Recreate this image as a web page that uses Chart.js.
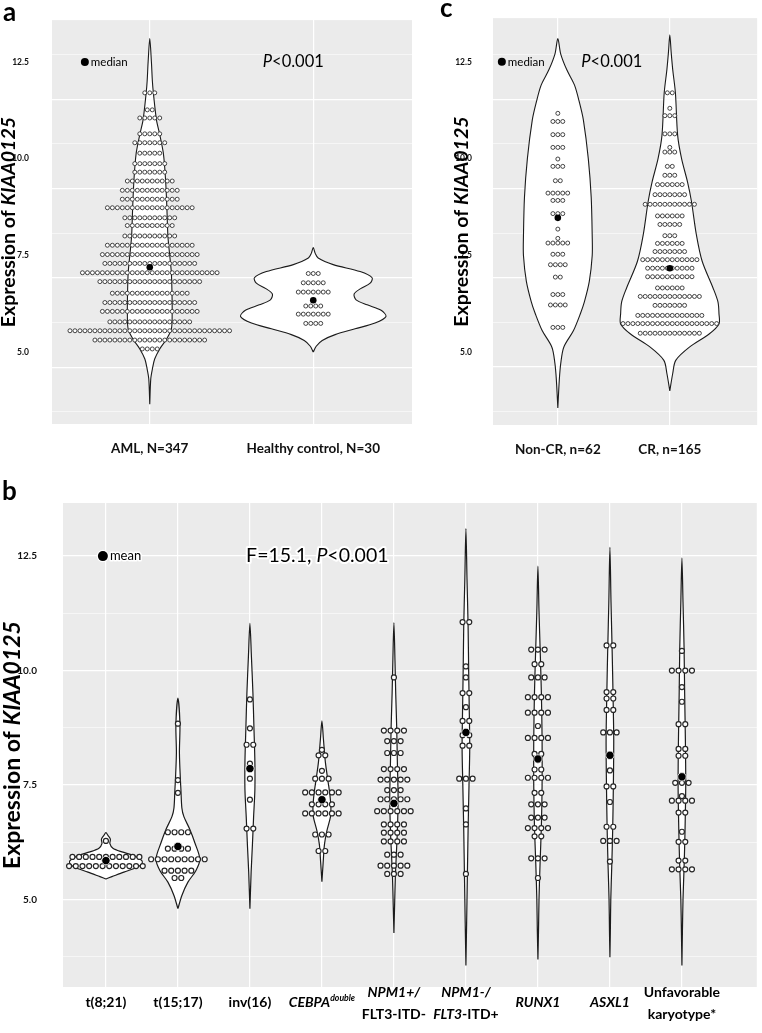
<!DOCTYPE html>
<html>
<head>
<meta charset="utf-8">
<script src="https://cdn.jsdelivr.net/npm/chart.js@4.4.1/dist/chart.umd.min.js"></script>
<style>
  html, body { margin: 0; padding: 0; background: #fff; }
  #wrap { position: relative; width: 762px; height: 1033px; overflow: hidden; }
  canvas { position: absolute; }
  .tag { position: absolute; z-index: 2; font: bold 26px Lato, sans-serif; line-height: 1; color: #000; }
</style>
</head>
<body>
<div id="wrap">
  <div class="tag" style="left:3px;top:-2px">a</div>
  <div class="tag" style="left:440px;top:-6px">c</div>
  <div class="tag" style="left:2px;top:477px">b</div>
  <canvas id="chartA" width="420" height="470" style="left:0;top:0"></canvas>
  <canvas id="chartC" width="322" height="470" style="left:440px;top:0"></canvas>
  <canvas id="chartB" width="762" height="563" style="left:0;top:470px"></canvas>
</div>
<script>
(function () {
    'use strict';

    // ── Shared text / ticks ─────────────────────────────────────
    const Y_TITLE = 'Expression of _KIAA0125_';
    const P_NOTE = '_P_<0.001';
    const F_NOTE = 'F=15.1, _P_<0.001';
    const Y_LABELS = [5, 7.5, 10, 12.5];
    const AC_GRID = [4, 5, 6, 7, 8, 9, 10, 11, 12];
    const B_GRID = [3.75, 5, 6.25, 7.5, 8.75, 10, 11.25, 12.5];

    // ── Panel a: AML vs healthy control ─────────────────────────
    const A_CATEGORIES = ['AML, N=347', 'Healthy control, N=30'];
    const A_MEDIANS = [7.19, 6.34];
    // [expression, number of samples in the row]
    const AML_DOTS = [
        [11.70, 3], [11.26, 2], [11.05, 5], [10.64, 5], [10.41, 7], [10.14, 5], [9.87, 7],
        [9.65, 7], [9.42, 10], [9.18, 12], [8.95, 12], [8.73, 18], [8.47, 11], [8.27, 10],
        [8.00, 11], [7.76, 18], [7.52, 20], [7.29, 19], [7.05, 28], [6.82, 21], [6.52, 16],
        [6.28, 19], [6.05, 20], [5.78, 17], [5.55, 33], [5.31, 23], [5.08, 4],
    ];
    const HC_DOTS = [[7.03, 3], [6.79, 5], [6.55, 7], [6.19, 4], [5.98, 7], [5.74, 4]];
    // [expression, density half-width]
    const AML_VIOLIN = [
        [3.65, 0], [4.30, .006], [4.56, .016], [4.82, .030], [5.08, .061], [5.33, .102],
        [5.59, .132], [6.00, .137], [6.50, .136], [7.05, .132], [7.50, .122], [8.00, .111],
        [8.80, .104], [9.50, .096], [10.14, .083], [10.60, .062], [11.00, .041], [11.70, .022],
        [12.00, .016], [12.50, .010], [13.10, 0],
    ];
    const HC_VIOLIN = [
        [5.00, 0], [5.15, .018], [5.30, .055], [5.45, .134], [5.60, .256], [5.75, .378],
        [5.92, .445], [6.08, .415], [6.22, .330], [6.35, .262], [6.50, .250], [6.64, .290],
        [6.78, .348], [6.92, .360], [7.08, .287], [7.26, .122], [7.43, .030], [7.55, .012], [7.70, 0],
    ];

    // ── Panel c: Non-CR vs CR ───────────────────────────────────
    const C_CATEGORIES = ['Non-CR, n=62', 'CR, n=165'];
    const C_MEDIANS = [8.47, 7.17];
    const NONCR_DOTS = [
        [11.17, 1], [10.96, 3], [10.62, 3], [10.29, 3], [9.99, 1], [9.80, 3], [9.43, 2],
        [9.11, 5], [8.92, 3], [8.58, 3], [8.18, 1], [7.94, 1], [7.82, 5], [7.53, 3],
        [7.26, 4], [6.94, 2], [6.49, 3], [6.22, 4], [5.64, 3],
    ];
    const CR_DOTS = [
        [11.70, 2], [11.30, 1], [11.11, 3], [10.64, 3], [10.29, 1], [10.17, 3], [9.80, 2],
        [9.57, 3], [9.33, 6], [9.07, 7], [8.82, 11], [8.52, 6], [8.30, 5], [8.01, 3],
        [7.81, 6], [7.60, 7], [7.39, 12], [7.17, 10], [6.95, 10], [6.66, 6], [6.44, 13],
        [6.21, 7], [5.95, 14], [5.74, 20], [5.49, 13],
    ];
    const NONCR_VIOLIN = [
        [3.56, 0], [4.28, .013], [4.71, .026], [5.13, .053], [5.56, .140], [6.00, .202],
        [6.30, .237], [6.83, .281], [7.50, .307], [8.00, .307], [9.00, .298], [10.00, .272],
        [11.00, .228], [11.45, .193], [11.90, .149], [12.30, .079], [12.70, .026], [13.10, 0],
    ];
    const CR_VIOLIN = [
        [4.00, 0], [4.45, .026], [4.79, .053], [5.13, .175], [5.47, .351], [5.73, .439],
        [6.00, .439], [6.30, .430], [6.66, .386], [7.35, .289], [8.04, .237], [8.90, .193],
        [9.40, .158], [10.00, .105], [10.60, .070], [11.70, .050], [12.30, .026], [12.75, .012], [13.20, 0],
    ];

    // ── Panel b: molecular / cytogenetic subgroups ──────────────
    // _text_ = italic, ^text^ = superscript, \n = line break
    const B_CATEGORIES = [
        't(8;21)', 't(15;17)', 'inv(16)', '_CEBPA_^double^', '_NPM1+/_\nFLT3-ITD-',
        '_NPM1-/_\n_FLT3_-ITD+', '_RUNX1_', '_ASXL1_', 'Unfavorable\nkaryotype*',
    ];
    const B_MEANS = [5.85, 6.16, 7.86, 7.18, 7.10, 8.65, 8.07, 8.15, 7.68];
    const T821_DOTS = [[6.28, 1], [5.93, 11], [5.73, 12]];
    const T1517_DOTS = [[8.84, 1], [7.61, 1], [7.33, 1], [6.47, 4], [6.11, 4], [5.88, 9], [5.63, 5], [5.47, 2]];
    const INV16_DOTS = [[9.37, 1], [8.74, 1], [8.38, 2], [7.97, 1], [7.64, 1], [7.18, 1], [6.55, 2]];
    const CEBPA_DOTS = [[8.27, 1], [8.15, 2], [7.81, 1], [7.64, 3], [7.34, 6], [7.08, 4], [6.88, 6], [6.42, 3], [6.06, 2]];
    const NPM1P_DOTS = [
        [9.85, 1], [8.69, 4], [8.46, 3], [8.20, 3], [7.85, 4], [7.62, 5], [7.39, 3], [7.19, 5],
        [6.93, 6], [6.64, 4], [6.46, 4], [6.27, 4], [5.98, 3], [5.74, 5], [5.56, 3],
    ];
    const NPM1M_DOTS = [
        [11.06, 2], [10.09, 1], [9.85, 1], [9.51, 2], [9.20, 1], [8.90, 2], [8.59, 2],
        [8.36, 2], [7.64, 3], [6.99, 1], [6.64, 1], [5.56, 1],
    ];
    const RUNX1_DOTS = [
        [10.46, 3], [10.14, 2], [9.85, 3], [9.42, 4], [9.08, 4], [8.79, 1], [8.53, 4], [8.18, 2],
        [7.84, 2], [7.66, 4], [7.33, 2], [7.08, 3], [6.79, 3], [6.56, 4], [6.38, 2], [5.90, 3], [5.47, 1],
    ];
    const ASXL1_DOTS = [
        [10.55, 2], [9.53, 2], [9.39, 2], [9.14, 2], [8.65, 3], [7.82, 1], [7.47, 2],
        [7.13, 1], [6.59, 2], [6.28, 3], [5.83, 1],
    ];
    const UNFAV_DOTS = [
        [10.43, 1], [10.00, 4], [9.64, 1], [9.32, 1], [8.83, 2], [8.29, 2], [8.14, 2], [7.55, 3],
        [7.26, 1], [7.16, 4], [6.90, 2], [6.48, 1], [6.26, 2], [5.85, 2], [5.66, 4],
    ];
    const T821_VIOLIN = [
        [5.45, 0], [5.50, .083], [5.60, .249], [5.70, .429], [5.78, .499], [5.85, .499],
        [5.96, .388], [6.04, .222], [6.12, .097], [6.22, .055], [6.32, .062], [6.40, .028], [6.46, 0],
    ];
    const T1517_VIOLIN = [
        [4.80, 0], [5.09, .055], [5.38, .139], [5.63, .249], [5.88, .305], [6.24, .235], [6.53, .166],
        [6.81, .083], [7.00, .055], [7.39, .042], [7.60, .035], [8.20, .021], [8.83, .028], [9.40, 0],
    ];
    const INV16_VIOLIN = [
        [4.80, 0], [5.60, .017], [6.20, .035], [6.80, .051], [7.40, .069], [8.00, .069],
        [8.80, .055], [9.50, .042], [10.30, .021], [11.03, 0],
    ];
    const CEBPA_VIOLIN = [
        [5.39, 0], [5.80, .017], [6.20, .035], [6.50, .069], [6.80, .118], [7.00, .125],
        [7.30, .110], [7.60, .083], [8.00, .048], [8.50, .021], [8.90, 0],
    ];
    const NPM1P_VIOLIN = [
        [4.27, 0], [4.90, .010], [5.50, .020], [6.00, .034], [6.50, .048], [7.20, .058],
        [8.00, .048], [8.80, .038], [9.50, .025], [10.20, .015], [11.05, 0],
    ];
    const NPM1M_VIOLIN = [
        [3.56, 0], [4.50, .010], [5.50, .020], [6.50, .030], [7.50, .043], [8.30, .053],
        [9.00, .048], [10.00, .038], [11.00, .030], [12.00, .015], [13.10, 0],
    ];
    const RUNX1_VIOLIN = [
        [3.69, 0], [4.30, .008], [5.00, .015], [5.80, .030], [6.60, .048], [7.50, .058],
        [8.50, .058], [9.50, .048], [10.30, .034], [11.30, .015], [12.28, 0],
    ];
    const ASXL1_VIOLIN = [
        [3.74, 0], [4.30, .006], [5.00, .012], [5.70, .025], [6.50, .038], [7.50, .048],
        [8.50, .053], [9.50, .043], [10.50, .030], [11.50, .015], [12.69, 0],
    ];
    const UNFAV_VIOLIN = [
        [3.56, 0], [4.30, .007], [5.00, .015], [5.70, .030], [6.50, .043], [7.50, .053],
        [8.50, .048], [9.50, .038], [10.50, .030], [11.50, .015], [12.46, 0],
    ];

    // ── Look ────────────────────────────────────────────────────
    const FONT = 'Lato, "Open Sans", sans-serif';
    const PANEL_BG = '#ebebeb';
    Chart.defaults.font.family = FONT;
    Chart.defaults.color = '#111';

    // ── Helpers ─────────────────────────────────────────────────

    function parseRich(s) {
        const out = [];
        s.split(/(_[^_]+_|\^[^^]+\^)/).forEach(p => {
            if (!p) return;
            if (p[0] === '_') out.push({ t: p.slice(1, -1), it: true });
            else if (p[0] === '^') out.push({ t: p.slice(1, -1), it: true, sup: true });
            else out.push({ t: p });
        });
        return out;
    }

    function drawRich(ctx, s, x, y, o) {
        const segs = parseRich(s);
        const fontOf = sg => (sg.it ? 'italic ' : '') + (o.weight || 'normal') + ' ' +
            (sg.sup ? o.size * 0.62 : o.size) + 'px ' + FONT;
        let w = 0;
        segs.forEach(sg => { ctx.font = fontOf(sg); sg.w = ctx.measureText(sg.t).width; w += sg.w; });
        let cx = o.align === 'left' ? x : x - w / 2;
        ctx.textAlign = 'left';
        ctx.textBaseline = 'middle';
        segs.forEach(sg => {
            ctx.font = fontOf(sg);
            const yy = sg.sup ? y - o.size * 0.3 : y;
            if (o.halo) {
                ctx.strokeStyle = '#fff';
                ctx.lineWidth = o.halo;
                ctx.lineJoin = 'round';
                ctx.strokeText(sg.t, cx, yy);
            }
            ctx.fillStyle = '#000';
            ctx.fillText(sg.t, cx, yy);
            cx += sg.w;
        });
    }

    function dotPoints(rows, cat, step) {
        const pts = [];
        rows.forEach(([y, n]) => {
            for (let i = 0; i < n; i++) pts.push({ x: cat + (i - (n - 1) / 2) * step, y });
        });
        return pts;
    }

    function violinPoints(shape, cat) {
        const right = shape.map(([y, w]) => ({ x: cat + w, y }));
        const left = shape.slice(0, -1).reverse().map(([y, w]) => ({ x: cat - w, y }));
        return right.concat(left);
    }

    function groupDatasets(groups, centres, look) {
        const sets = [];
        groups.forEach((g, i) => {
            const cat = i + 1;
            sets.push({
                violin: true, data: violinPoints(g.violin, cat), yAxisID: 'y',
                showLine: true, borderColor: '#1b1b1b', borderWidth: look.line,
                pointRadius: 0, tension: 0.3, fill: false, order: 3,
            });
            sets.push({
                data: dotPoints(g.dots, cat, look.step), yAxisID: 'y', showLine: false,
                pointRadius: look.r, pointBorderWidth: look.bw,
                pointBackgroundColor: '#fff', pointBorderColor: '#262626', order: 2,
            });
        });
        sets.push({
            data: centres.map((y, i) => ({ x: i + 1, y })), yAxisID: 'y', showLine: false,
            pointRadius: look.cr, pointBackgroundColor: '#000',
            pointBorderColor: '#fff', pointBorderWidth: look.crRing, order: 1,
        });
        return sets;
    }

    // ── Plugins ─────────────────────────────────────────────────

    const violinFill = {
        id: 'violinFill',
        beforeDatasetsDraw(chart) {
            const { ctx, chartArea } = chart;
            chart.data.datasets.forEach((ds, i) => {
                if (!ds.violin) return;
                const meta = chart.getDatasetMeta(i);
                if (meta.dataset && meta.dataset.updateControlPoints) meta.dataset.updateControlPoints(chartArea, 'x');
                const pts = meta.data;
                if (!pts.length) return;
                ctx.save();
                ctx.beginPath();
                ctx.moveTo(pts[0].x, pts[0].y);
                for (let k = 1; k < pts.length; k++) {
                    const p = pts[k - 1], q = pts[k];
                    if (Number.isFinite(p.cp2x) && Number.isFinite(q.cp1x)) {
                        ctx.bezierCurveTo(p.cp2x, p.cp2y, q.cp1x, q.cp1y, q.x, q.y);
                    } else {
                        ctx.lineTo(q.x, q.y);
                    }
                }
                ctx.closePath();
                ctx.fillStyle = '#fff';
                ctx.fill();
                ctx.restore();
            });
        },
    };

    const decor = {
        id: 'decor',
        beforeDraw(chart) {
            const { ctx, chartArea: a } = chart;
            ctx.save();
            ctx.fillStyle = PANEL_BG;
            ctx.fillRect(a.left, a.top, a.right - a.left, a.bottom - a.top);
            ctx.restore();
        },
        afterDraw(chart, args, o) {
            const { ctx, chartArea: a, scales } = chart;
            const sx = scales.x, sy = scales.y;

            // axis title
            ctx.save();
            ctx.translate(o.titleX, (a.top + a.bottom) / 2);
            ctx.rotate(-Math.PI / 2);
            drawRich(ctx, Y_TITLE, 0, 0, { size: o.titleSize, weight: 'bold' });
            ctx.restore();

            // median / mean key
            const kx = sx.getPixelForValue(o.key.x), ky = sy.getPixelForValue(o.key.y);
            ctx.save();
            ctx.beginPath();
            ctx.arc(kx, ky, o.key.r, 0, Math.PI * 2);
            ctx.fillStyle = '#000';
            if (o.key.ring) {
                ctx.strokeStyle = '#fff';
                ctx.lineWidth = o.key.ring;
                ctx.stroke();
            }
            ctx.fill();
            drawRich(ctx, o.key.label, kx + o.key.r + 2, ky, { size: o.key.size, align: 'left', halo: o.key.halo });

            // statistic
            drawRich(ctx, o.note.text, sx.getPixelForValue(o.note.x), sy.getPixelForValue(o.note.y),
                { size: o.note.size, halo: o.note.halo });

            // rich category labels
            if (o.xLabels) {
                o.xLabels.forEach((lab, i) => {
                    const px = sx.getPixelForValue(i + 1);
                    const lines = lab.split('\n');
                    lines.forEach((ln, j) => {
                        const py = lines.length === 1 ? a.bottom + o.xLabelY[0]
                            : a.bottom + o.xLabelY[1] + j * o.xLabelY[2];
                        drawRich(ctx, ln, px, py, { size: o.xLabelSize, weight: 'bold' });
                    });
                });
            }
            ctx.restore();
        },
    };

    // ── Chart builder ───────────────────────────────────────────

    function makePanel(id, p) {
        const el = document.getElementById(id);
        const gridMajor = v => p.gridMajor(v);
        new Chart(el, {
            type: 'line',
            data: { datasets: p.datasets },
            options: {
                responsive: false,
                animation: false,
                events: [],
                layout: { padding: p.padding },
                plugins: {
                    legend: { display: false },
                    tooltip: { enabled: false },
                    decor: p.decor,
                },
                scales: {
                    x: {
                        type: 'linear',
                        min: p.xRange[0],
                        max: p.xRange[1],
                        afterBuildTicks: s => { s.ticks = p.categories.map((_, i) => ({ value: i + 1 })); },
                        afterFit: s => { s.height = p.xHeight; },
                        border: { display: false },
                        grid: { color: '#fff', lineWidth: 1.2, drawTicks: false },
                        ticks: {
                            display: !p.decor.xLabels,
                            autoSkip: false, maxRotation: 0, minRotation: 0,
                            padding: 17, color: '#111',
                            font: { size: 13.5, weight: 'bold' },
                            callback: v => p.categories[Math.round(v) - 1] || '',
                        },
                    },
                    y: {
                        type: 'linear',
                        min: p.yRange[0],
                        max: p.yRange[1],
                        afterBuildTicks: s => { s.ticks = Y_LABELS.map(v => ({ value: v })); },
                        afterFit: s => { s.width = p.yWidth; },
                        border: { display: false },
                        grid: { display: false },
                        ticks: {
                            padding: p.yPad, color: '#111',
                            font: { size: p.yTickSize, weight: 'bold' },
                            callback: v => v.toFixed(1),
                        },
                    },
                    yg: {
                        type: 'linear',
                        position: 'right',
                        min: p.gridRange[0],
                        max: p.gridRange[1],
                        afterBuildTicks: s => { s.ticks = p.gridTicks.map(v => ({ value: v })); },
                        afterFit: s => { s.width = 0; },
                        border: { display: false },
                        ticks: { display: false },
                        grid: {
                            drawTicks: false,
                            color: c => gridMajor(c.tick.value) ? '#ffffff' : 'rgba(255,255,255,0.8)',
                            lineWidth: c => gridMajor(c.tick.value) ? 1.3 : 0.7,
                        },
                    },
                },
            },
            plugins: [violinFill, decor],
        });
    }

    // ── Build panels ────────────────────────────────────────────

    const lookAC = { step: 0, r: 2.0, bw: 0.85, line: 1.1, cr: 3.3, crRing: 0 };

    makePanel('chartA', {
        categories: A_CATEGORIES,
        datasets: groupDatasets(
            [{ dots: AML_DOTS, violin: AML_VIOLIN }, { dots: HC_DOTS, violin: HC_VIOLIN }],
            A_MEDIANS, Object.assign({}, lookAC, { step: 0.0305 })),
        padding: { top: 17, right: 8, left: 0, bottom: 0 },
        xRange: [0.402, 2.604],
        yRange: [3.14, 13.58],
        gridRange: [3.73, 12.77],
        gridTicks: AC_GRID,
        gridMajor: v => v % 2 === 1,
        xHeight: 46, yWidth: 52, yPad: 15, yTickSize: 8.5,
        decor: {
            titleX: 9, titleSize: 19.5,
            key: { x: 0.603, y: 12.5, r: 4, label: 'median', size: 11.5 },
            note: { x: 1.878, y: 12.5, text: P_NOTE, size: 16.5 },
        },
    });

    makePanel('chartC', {
        categories: C_CATEGORIES,
        datasets: groupDatasets(
            [{ dots: NONCR_DOTS, violin: NONCR_VIOLIN }, { dots: CR_DOTS, violin: CR_VIOLIN }],
            C_MEDIANS, Object.assign({}, lookAC, { step: 0.044 })),
        padding: { top: 15, right: 0, left: 0, bottom: 0 },
        xRange: [0.421, 2.78],
        yRange: [3.12, 13.63],
        gridRange: [3.70, 12.82],
        gridTicks: AC_GRID,
        gridMajor: v => v % 2 === 1,
        xHeight: 45, yWidth: 53, yPad: 13, yTickSize: 8.5,
        decor: {
            titleX: 22, titleSize: 19.5,
            key: { x: 0.50, y: 12.5, r: 4, label: 'median', size: 11.5 },
            note: { x: 1.482, y: 12.5, text: P_NOTE, size: 16.5 },
        },
    });

    makePanel('chartB', {
        categories: B_CATEGORIES,
        datasets: groupDatasets(
            [
                { dots: T821_DOTS, violin: T821_VIOLIN },
                { dots: T1517_DOTS, violin: T1517_VIOLIN },
                { dots: INV16_DOTS, violin: INV16_VIOLIN },
                { dots: CEBPA_DOTS, violin: CEBPA_VIOLIN },
                { dots: NPM1P_DOTS, violin: NPM1P_VIOLIN },
                { dots: NPM1M_DOTS, violin: NPM1M_VIOLIN },
                { dots: RUNX1_DOTS, violin: RUNX1_VIOLIN },
                { dots: ASXL1_DOTS, violin: ASXL1_VIOLIN },
                { dots: UNFAV_DOTS, violin: UNFAV_VIOLIN },
            ],
            B_MEANS, { step: 0.093, r: 2.5, bw: 1.2, line: 1.2, cr: 4.2, crRing: 0.8 }),
        padding: { top: 33, right: 4, left: 0, bottom: 0 },
        xRange: [0.404, 10.04],
        yRange: [3.09, 13.66],
        gridRange: [3.09, 13.66],
        gridTicks: B_GRID,
        gridMajor: v => Y_LABELS.includes(v),
        xHeight: 46, yWidth: 63, yPad: 18, yTickSize: 10,
        decor: {
            titleX: 13, titleSize: 23,
            key: { x: 0.958, y: 12.5, r: 5, ring: 2.5, label: 'mean', size: 13, halo: 3 },
            note: { x: 3.936, y: 12.5, text: F_NOTE, size: 19.5, halo: 4 },
            xLabels: B_CATEGORIES, xLabelSize: 14, xLabelY: [15, 5, 22],
        },
    });
})();
</script>
</body>
</html>
